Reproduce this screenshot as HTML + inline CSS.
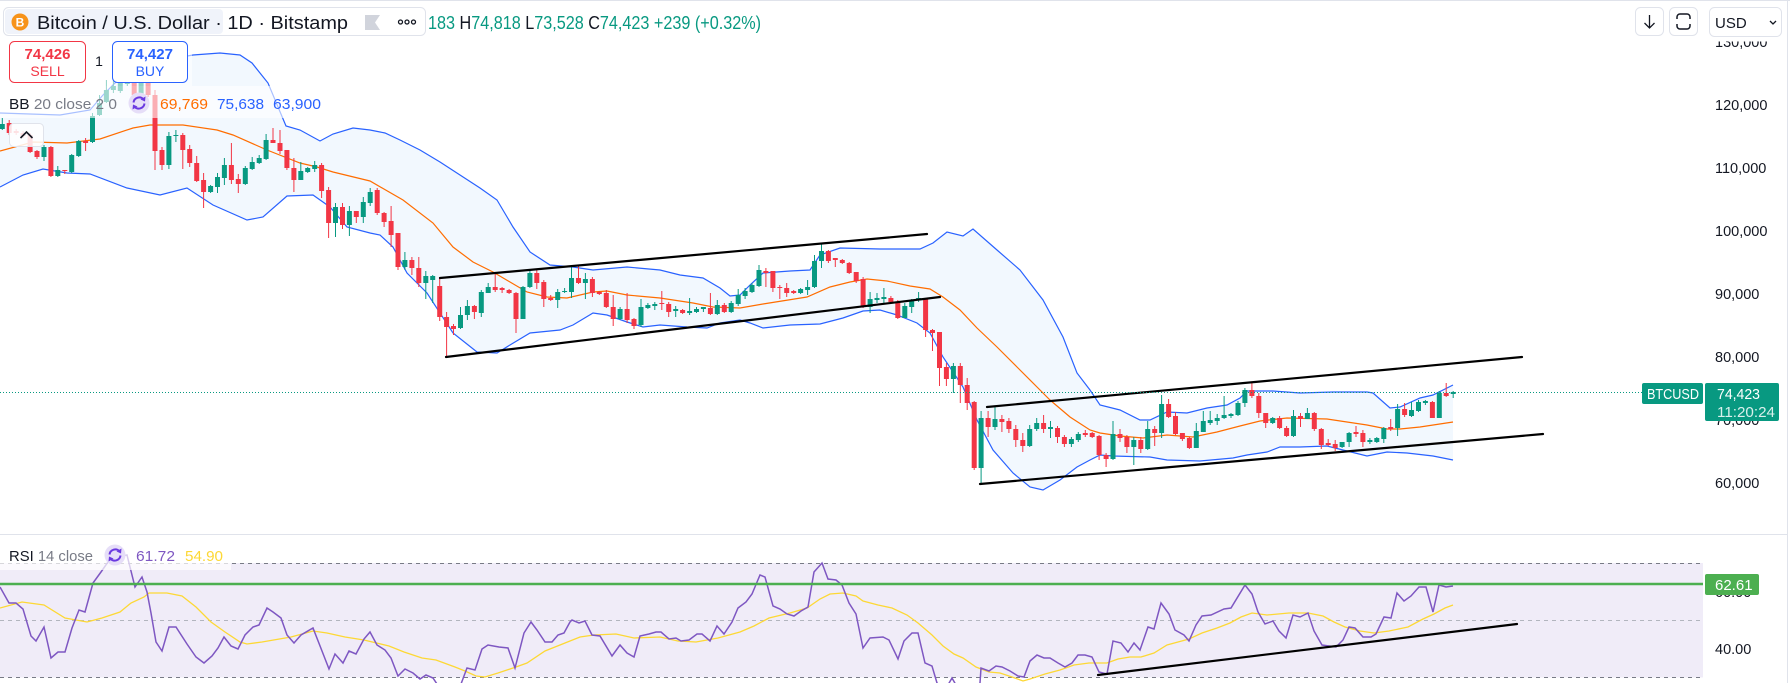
<!DOCTYPE html>
<html><head><meta charset="utf-8"><style>
html,body{margin:0;padding:0;background:#fff;width:1790px;height:683px;overflow:hidden}
svg{display:block}
text{font-family:"Liberation Sans",Arial,sans-serif}
</style></head><body>
<svg width="1790" height="683" viewBox="0 0 1790 683" xmlns="http://www.w3.org/2000/svg">
<rect width="1790" height="683" fill="#fff"/>
<line x1="0" y1="0.5" x2="1790" y2="0.5" stroke="#e0e3eb"/>
<line x1="1787.5" y1="0" x2="1787.5" y2="683" stroke="#e0e3eb"/>
<line x1="0" y1="534.5" x2="1788" y2="534.5" stroke="#e0e3eb"/>

<!-- BB fill -->
<polygon fill="#f2f8fe" points="0,113 30,114 60,115 90,110 103,95 115,83 127,74 153,62 193,55 220,53 240,55 252,63 268,83 286,126 300,130 320,141 333,134 353,128 370,130 385,133 400,140 420,150 440,162 460,175 480,188 497,200 513,227 530,252 550,265 573,267 593,270 627,267 660,270 680,275 703,278 720,288 730,296 740,295 750,285 763,273 790,271 810,270 820,255 840,248 880,249 920,249 933,243 947,232 963,236 973,229 997,250 1020,270 1043,300 1063,337 1077,373 1090,390 1100,405 1120,410 1140,420 1150,420 1167,412 1187,413 1207,408 1227,405 1240,398 1247,391 1273,391 1300,393 1333,392 1367,392 1373,393 1390,408 1400,407 1420,398 1433,395 1453,385 1453,460 1433,456 1407,453 1387,452 1367,456 1343,450 1327,446 1300,447 1280,447 1267,452 1247,455 1233,458 1200,461 1167,460 1150,457 1113,456 1100,455 1090,460 1077,467 1060,480 1043,490 1030,487 1013,473 993,450 977,420 963,387 943,357 930,333 917,323 897,315 880,310 863,311 843,318 820,324 790,325 763,328 750,323 740,320 720,323 707,328 687,327 660,325 643,327 627,322 607,315 593,313 573,325 560,330 530,333 510,345 497,353 477,352 453,333 427,293 407,273 393,247 380,235 370,233 347,227 330,207 313,195 287,196 263,217 247,220 213,205 187,188 160,195 127,188 90,174 67,173 43,169 23,175 0,187"/>
<!-- BB lines -->
<polyline fill="none" stroke="#2962ff" stroke-width="1.2" points="0,113 30,114 60,115 90,110 103,95 115,83 127,74 153,62 193,55 220,53 240,55 252,63 268,83 286,126 300,130 320,141 333,134 353,128 370,130 385,133 400,140 420,150 440,162 460,175 480,188 497,200 513,227 530,252 550,265 573,267 593,270 627,267 660,270 680,275 703,278 720,288 730,296 740,295 750,285 763,273 790,271 810,270 820,255 840,248 880,249 920,249 933,243 947,232 963,236 973,229 997,250 1020,270 1043,300 1063,337 1077,373 1090,390 1100,405 1120,410 1140,420 1150,420 1167,412 1187,413 1207,408 1227,405 1240,398 1247,391 1273,391 1300,393 1333,392 1367,392 1373,393 1390,408 1400,407 1420,398 1433,395 1453,385"/>
<polyline fill="none" stroke="#2962ff" stroke-width="1.2" points="0,187 23,175 43,169 67,173 90,174 127,188 160,195 187,188 213,205 247,220 263,217 287,196 313,195 330,207 347,227 370,233 380,235 393,247 407,273 427,293 453,333 477,352 497,353 510,345 530,333 560,330 573,325 593,313 607,315 627,322 643,327 660,325 687,327 707,328 720,323 740,320 750,323 763,328 790,325 820,324 843,318 863,311 880,310 897,315 917,323 930,333 943,357 963,387 977,420 993,450 1013,473 1030,487 1043,490 1060,480 1077,467 1090,460 1100,455 1113,456 1150,457 1167,460 1200,461 1233,458 1247,455 1267,452 1280,447 1300,447 1327,446 1343,450 1367,456 1387,452 1407,453 1433,456 1453,460"/>
<polyline fill="none" stroke="#ff6d00" stroke-width="1.2" points="0,151 33,142 67,143 100,139 133,128 150,125 183,125 217,130 233,135 267,150 300,163 317,167 333,172 370,181 403,200 433,223 453,247 473,262 493,272 510,282 527,292 547,297 567,298 593,292 607,291 627,295 660,298 693,303 713,307 740,308 763,304 807,297 830,287 850,282 867,279 887,281 910,286 930,289 943,297 960,310 977,328 997,347 1017,367 1037,387 1050,400 1070,417 1090,430 1100,433 1120,436 1143,438 1167,435 1193,437 1217,432 1240,426 1260,421 1287,418 1327,419 1367,425 1387,429 1400,429 1420,427 1453,422"/>

<!-- candles -->
<path fill="none" stroke="#089981" stroke-width="1" d="M2.3 118V130M44 145V161M57.8 166V177M71.7 154V173M78.7 140V157M92.5 113V143M99.5 95V116M106.4 80V103M113.4 80V93M120.3 78V93M127.3 68V86M141.1 72V97M168.9 132V169M175.9 130V142M210.6 185V193M217.5 173V193M224.4 158V185M245.3 166V185M252.2 157V170M259.2 155V164M266.1 134V160M300.8 162V180M307.7 167V173M314.7 161V172M335.5 203V237M349.4 206V236M363.3 197V223M370.2 188V206M404.9 252V270M425.8 271V299M432.7 275V303M460.5 307V329M467.4 300V320M481.3 290V317M488.2 283V293M523 286V319M529.9 271V288M557.7 289V308M564.6 288V293M571.5 265V298M585.4 273V299M620.1 307V320M641 299V327M647.9 303V309M654.8 302V310M675.7 306V317M689.6 298V315M696.5 307V313M703.4 307V312M717.3 300V315M731.2 301V313M738.2 289V306M745.1 288V299M752 283V293M759 265V287M800.6 288V294M807.6 280V295M814.5 255V288M821.5 243V268M870.1 292V313M877 293V303M883.9 288V303M904.8 303V318M911.7 299V313M918.6 292V302M953.4 363V393M981.1 411V485M995 407V430M1029.7 425V447M1036.7 418V431M1050.5 421V438M1071.4 437V447M1078.3 432V442M1113 421V460M1133.8 437V465M1147.7 421V450M1161.6 395V438M1196.3 423V448M1203.3 411V432M1210.2 411V425M1217.2 414V425M1224.1 396V419M1231 413V418M1238 401V416M1244.9 388V407M1272.7 417V424M1293.5 410V437M1307.4 408V419M1342.1 442V448M1349.1 432V447M1369.9 438V444M1376.8 437V443M1383.8 427V443M1397.6 404V436M1411.5 402V417M1418.5 400V412M1425.4 400V405M1439.3 391V418M1453.2 391V398"/>
<path fill="none" stroke="#f23645" stroke-width="1" d="M9.2 120V135M16.2 129V135M23.1 131V138M30.1 133V153M37 150V159M50.9 146V177M64.8 170V174M85.6 138V151M134.2 70V97M148.1 76V97M155 90V170M162 147V170M182.8 133V169M189.7 145V167M196.7 156V182M203.6 173V208M231.4 143V184M238.3 174V193M273 128V143M280 130V154M286.9 150V170M293.9 158V192M321.6 163V198M328.6 187V238M342.5 203V229M356.3 211V223M377.2 188V215M384.1 212V227M391.1 206V247M398 233V270M411.9 257V275M418.8 257V287M439.7 277V321M446.6 312V356M453.5 324V335M474.4 305V319M495.2 274V292M502.1 287V293M509.1 289V294M516 292V333M536.8 270V289M543.8 280V307M550.7 295V301M578.5 266V284M592.4 277V297M599.3 291V295M606.3 290V308M613.2 295V326M627.1 293V323M634 318V329M661.8 291V310M668.7 302V317M682.6 309V314M710.4 293V315M724.3 303V313M765.9 268V287M772.9 271V292M779.8 285V299M786.7 283V297M793.7 290V294M828.4 250V263M835.3 258V267M842.3 259V264M849.2 262V274M856.2 272V283M863.1 277V308M890.9 296V302M897.8 300V319M925.6 298V337M932.5 329V351M939.5 332V386M946.4 363V386M960.3 363V403M967.2 378V410M974.2 401V470M988.1 411V437M1001.9 415V432M1008.9 418V433M1015.8 425V447M1022.8 433V452M1043.6 415V433M1057.5 426V443M1064.4 435V447M1085.3 430V437M1092.2 432V438M1099.1 435V460M1106.1 453V467M1120 429V442M1126.9 435V453M1140.8 437V453M1154.7 426V446M1168.6 399V418M1175.5 412V435M1182.4 433V441M1189.4 437V449M1251.9 383V398M1258.8 393V418M1265.7 413V428M1279.6 416V429M1286.6 426V437M1300.5 413V427M1314.3 412V431M1321.3 428V449M1328.2 439V446M1335.2 440V451M1356 426V437M1362.9 430V447M1390.7 419V431M1404.6 403V417M1432.4 401V418M1446.2 383V397"/>
<path fill="none" stroke="#089981" stroke-width="5" d="M2.3 124V129M44 147V157M57.8 170V176M71.7 155V172M78.7 141V156M92.5 116V142M99.5 103V115M106.4 90V102M113.4 86V90M120.3 83V91M127.3 75V84M141.1 80V95M168.9 136V165M175.9 135V136M210.6 186V192M217.5 177V187M224.4 165V178M245.3 168V184M252.2 162V169M259.2 158V163M266.1 140V159M300.8 171V180M307.7 168V172M314.7 165V169M335.5 207V223M349.4 211V225M363.3 202V217M370.2 192V203M404.9 260V267M425.8 276V283M432.7 276V280M460.5 315V328M467.4 306V315M481.3 292V313M488.2 287V293M523 287V319M529.9 273V287M557.7 292V300M564.6 291V292M571.5 278V292M585.4 279V283M620.1 309V319M641 307V325M647.9 305V308M654.8 304V306M675.7 309V311M689.6 311V313M696.5 309V312M703.4 307V309M717.3 305V314M731.2 303V312M738.2 295V304M745.1 291V296M752 285V292M759 270V286M800.6 289V293M807.6 287V290M814.5 261V287M821.5 251V261M870.1 299V307M877 298V300M883.9 297V299M904.8 306V318M911.7 301V307M918.6 298V300M953.4 366V379M981.1 418V468M995 419V427M1029.7 429V446M1036.7 423V429M1050.5 427V429M1071.4 439V444M1078.3 434V440M1113 434V459M1133.8 440V447M1147.7 429V449M1161.6 404V433M1196.3 431V448M1203.3 421V432M1210.2 420V423M1217.2 418V421M1224.1 415V418M1231 414V416M1238 403V415M1244.9 390V403M1272.7 418V423M1293.5 416V436M1307.4 413V419M1342.1 442V447M1349.1 433V442M1369.9 440V442M1376.8 438V442M1383.8 428V439M1397.6 409V428M1411.5 410V416M1418.5 402V411M1425.4 401V403M1439.3 393V418M1453.2 392V394"/>
<path fill="none" stroke="#f23645" stroke-width="5" d="M9.2 123V133M16.2 131V133M23.1 133V136M30.1 135V152M37 151V157M50.9 147V176M64.8 170V171M85.6 141V143M134.2 75V95M148.1 80V95M155 95V151M162 150V165M182.8 135V150M189.7 149V163M196.7 163V181M203.6 180V192M231.4 165V180M238.3 179V184M273 140V143M280 143V151M286.9 150V168M293.9 168V180M321.6 165V191M328.6 190V223M342.5 207V225M356.3 211V217M377.2 190V213M384.1 213V222M391.1 221V235M398 233V267M411.9 260V268M418.8 268V283M439.7 286V317M446.6 317V327M453.5 326V329M474.4 306V312M495.2 287V290M502.1 288V290M509.1 290V293M516 293V319M536.8 273V283M543.8 282V299M550.7 298V300M578.5 278V283M592.4 279V293M599.3 292V294M606.3 293V307M613.2 307V319M627.1 309V320M634 319V326M661.8 303V304M668.7 304V312M682.6 310V313M710.4 308V314M724.3 305V312M765.9 271V273M772.9 271V288M779.8 287V288M786.7 288V293M793.7 291V293M828.4 251V261M835.3 258V260M842.3 260V263M849.2 263V273M856.2 272V281M863.1 279V307M890.9 298V302M897.8 302V318M925.6 299V330M932.5 330V333M939.5 332V368M946.4 367V379M960.3 366V385M967.2 385V403M974.2 402V468M988.1 418V427M1001.9 419V422M1008.9 421V429M1015.8 429V440M1022.8 440V446M1043.6 423V429M1057.5 428V437M1064.4 437V444M1085.3 433V435M1092.2 433V437M1099.1 436V455M1106.1 455V459M1120 434V438M1126.9 437V447M1140.8 440V449M1154.7 429V433M1168.6 404V417M1175.5 416V434M1182.4 433V439M1189.4 438V448M1251.9 390V396M1258.8 396V413M1265.7 413V423M1279.6 418V428M1286.6 428V436M1300.5 416V419M1314.3 413V429M1321.3 429V445M1328.2 443V445M1335.2 444V448M1356 432V434M1362.9 433V442M1390.7 427V429M1404.6 409V415M1432.4 402V418M1446.2 393V396"/>

<!-- trend lines -->
<g stroke="#000" stroke-width="2.2" stroke-linecap="round">
<line x1="440" y1="278" x2="927" y2="234"/>
<line x1="446" y1="357" x2="940" y2="297"/>
<line x1="987" y1="407" x2="1522" y2="357"/>
<line x1="980" y1="484" x2="1543" y2="434"/>
</g>
<!-- last price line -->
<line x1="0" y1="392.5" x2="1642" y2="392.5" stroke="#089981" stroke-width="1" stroke-dasharray="1 2"/>

<!-- legend fades -->
<rect x="0" y="86" width="330" height="32" fill="#fff" fill-opacity="0.6"/>
<rect x="0" y="38" width="192" height="48" fill="#fff" fill-opacity="0.55"/>

<!-- header -->
<rect x="3.5" y="7.5" width="422" height="28" rx="5" fill="#fff" stroke="#e0e3eb"/>
<rect x="5" y="9" width="218" height="25" rx="4" fill="#f0f3fa"/>
<circle cx="20" cy="22" r="8.5" fill="#f7931a"/>
<text x="20" y="26.5" font-size="12" font-weight="bold" fill="#fff" text-anchor="middle">B</text>
<text x="37" y="29" font-size="18" fill="#131722" textLength="311" lengthAdjust="spacingAndGlyphs">Bitcoin / U.S. Dollar · 1D · Bitstamp</text>
<polygon points="365,15 380,15 375,22.5 380,30 365,30" fill="#d1d4dc"/>
<g fill="none" stroke="#131722" stroke-width="1.3"><circle cx="400.5" cy="22" r="2"/><circle cx="407" cy="22" r="2"/><circle cx="413.5" cy="22" r="2"/></g>
<text x="428" y="29" font-size="18" fill="#089981" textLength="333" lengthAdjust="spacingAndGlyphs">183 <tspan fill="#131722">H</tspan>74,818 <tspan fill="#131722">L</tspan>73,528 <tspan fill="#131722">C</tspan>74,423 +239 (+0.32%)</text>

<!-- sell/buy -->
<rect x="9.5" y="41.5" width="76" height="41" rx="5" fill="#fff" stroke="#f23645"/>
<text x="47.5" y="59" font-size="15" font-weight="bold" fill="#f23645" text-anchor="middle">74,426</text>
<text x="47.5" y="76" font-size="14" fill="#f23645" text-anchor="middle">SELL</text>
<text x="99" y="66" font-size="14" fill="#131722" text-anchor="middle">1</text>
<rect x="112.5" y="41.5" width="75" height="41" rx="5" fill="#fff" stroke="#2962ff"/>
<text x="150" y="59" font-size="15" font-weight="bold" fill="#2962ff" text-anchor="middle">74,427</text>
<text x="150" y="76" font-size="14" fill="#2962ff" text-anchor="middle">BUY</text>

<!-- BB legend -->
<text x="9" y="109" font-size="15" fill="#787b86" textLength="108" lengthAdjust="spacingAndGlyphs"><tspan fill="#131722">BB</tspan> 20 close 2 0</text>
<g transform="translate(139,103)"><circle r="10.5" fill="#e6def8"/><path d="M-5.5 -0.5A5.8 5.8 0 0 1 4.6 -3.6M5.5 0.5A5.8 5.8 0 0 1 -4.6 3.6" stroke="#6a38e0" stroke-width="2" fill="none"/><path d="M6.5 -6.5L6 -1.5L1.5 -3.5Z M-6.5 6.5L-6 1.5L-1.5 3.5Z" fill="#6a38e0"/></g>
<text x="160" y="109" font-size="15" fill="#ff6d00" textLength="48" lengthAdjust="spacingAndGlyphs">69,769</text>
<text x="217" y="109" font-size="15" fill="#2962ff" textLength="47" lengthAdjust="spacingAndGlyphs">75,638</text>
<text x="273" y="109" font-size="15" fill="#2962ff" textLength="48" lengthAdjust="spacingAndGlyphs">63,900</text>
<rect x="9.5" y="123.5" width="34" height="23" rx="4" fill="#fff" fill-opacity="0.85" stroke="#e0e3eb"/>
<path d="M20.5 138L26.5 132L32.5 138" fill="none" stroke="#131722" stroke-width="1.6"/>

<!-- price axis -->
<g font-size="14.5" fill="#131722">
<text x="1715" y="47">130,000</text>
<text x="1715" y="110">120,000</text>
<text x="1715" y="173">110,000</text>
<text x="1715" y="236">100,000</text>
<text x="1715" y="299">90,000</text>
<text x="1715" y="362">80,000</text>
<text x="1715" y="425">70,000</text>
<text x="1715" y="488">60,000</text>
</g>
<rect x="1642" y="383" width="61" height="21" rx="2" fill="#089981"/>
<text x="1647" y="399" font-size="15" fill="#fff" textLength="52" lengthAdjust="spacingAndGlyphs">BTCUSD</text>
<rect x="1705" y="383" width="74" height="38" rx="2" fill="#089981"/>
<text x="1717" y="399" font-size="15" fill="#fff" textLength="43" lengthAdjust="spacingAndGlyphs">74,423</text>
<text x="1717" y="417" font-size="15" fill="#fff" fill-opacity="0.85" textLength="58" lengthAdjust="spacingAndGlyphs">11:20:24</text>

<!-- top right buttons -->
<rect x="1630" y="1" width="1157" height="40.5" fill="#fff" transform="scale(1,1)" clip-path="none" style="width:157px"/>
<rect x="1635.5" y="7.5" width="28" height="28" rx="5" fill="#fff" stroke="#e0e3eb"/>
<path d="M1649.5 15V28M1644.5 23L1649.5 28L1654.5 23" fill="none" stroke="#131722" stroke-width="1.3"/>
<rect x="1669.5" y="7.5" width="28" height="28" rx="5" fill="#fff" stroke="#e0e3eb"/>
<path d="M1677 19v-2a3 3 0 0 1 3-3h7a3 3 0 0 1 3 3v2M1677 24v2a3 3 0 0 0 3 3h7a3 3 0 0 0 3-3v-2" fill="none" stroke="#131722" stroke-width="1.5"/>
<rect x="1709.5" y="7.5" width="72" height="29" rx="5" fill="#fff" stroke="#e0e3eb"/>
<text x="1715" y="28" font-size="15" fill="#131722">USD</text>
<path d="M1770 21l3 3l3-3" fill="none" stroke="#131722" stroke-width="1.3"/>

<!-- RSI pane -->
<rect x="0" y="563" width="1703" height="114.5" fill="#f0ecf8"/>
<line x1="0" y1="563.5" x2="1703" y2="563.5" stroke="#787b86" stroke-dasharray="4 4"/>
<line x1="0" y1="620.5" x2="1703" y2="620.5" stroke="#b2b5be" stroke-dasharray="4 4"/>
<line x1="0" y1="677.5" x2="1703" y2="677.5" stroke="#787b86" stroke-dasharray="4 4"/>
<polyline fill="none" stroke="#fdd835" stroke-width="1.3" points="0,608 22,602 44,605 65,618 87,622 102,618 120,612 131,603 144,597 149,593 167,593 182,596 196,607 211,622 225,632 240,642 247,644 262,642 291,637 313,631 327,633 345,637 364,640 389,646 404,652 422,658 436,660 455,667 465,671 476,676 485,677 498,673 516,667 527,663 545,651 565,643 580,637 594,635 616,634 634,638 660,637 678,641 696,642 718,638 740,632 754,626 769,618 790,613 807,608 820,599 830,594 843,593 856,596 863,601 878,605 892,608 907,615 918,623 932,635 943,646 954,654 963,658 976,667 989,672 1000,673 1012,677 1023,681 1030,679 1045,674 1060,670 1074,665 1089,663 1107,663 1118,659 1130,657 1141,657 1154,653 1167,645 1178,642 1189,639 1202,633 1217,628 1230,623 1241,617 1252,613 1267,615 1289,613 1308,613 1323,616 1334,622 1345,627 1360,631 1374,633 1389,631 1408,627 1423,619 1434,614 1445,608 1453,605"/>
<polyline fill="none" stroke="#7e57c2" stroke-width="1.5" points="0,587 9,603 16,603 23,609 31,636 36,641 44,627 51,658 58,652 65,652 72,628 79,610 85,612 93,583 101,572 108,562 116,557 127,555 135,587 142,577 147,592 151,613 156,642 162,651 169,627 176,627 187,644 196,657 204,663 212,656 218,648 224,637 231,646 238,649 245,635 253,627 259,625 267,608 273,612 281,618 287,635 294,643 301,635 313,628 322,651 329,669 335,654 343,663 349,651 356,654 364,639 370,632 377,645 385,650 391,658 398,676 405,669 413,673 420,679 426,675 433,678 437,684 445,690 455,688 461,684 467,668 475,670 482,649 488,645 499,647 508,648 515,668 524,633 531,622 537,630 545,642 552,642 558,635 564,633 570,622 572,620 579,623 585,621 592,635 600,636 612,656 620,645 627,653 634,657 640,636 649,634 656,632 661,632 669,639 676,638 681,641 689,640 697,634 702,634 710,641 717,626 724,634 732,622 738,608 746,602 752,594 760,575 765,577 773,606 780,609 787,614 794,616 801,611 808,607 814,572 822,563 828,579 836,580 842,585 849,603 856,614 863,648 870,638 883,637 889,640 898,659 904,641 912,633 918,633 925,663 932,666 937,683 945,690 952,678 956,685 965,692 975,688 980,683 981,668 989,671 996,666 1002,667 1010,671 1018,676 1024,677 1030,661 1037,655 1044,658 1050,658 1058,663 1065,667 1072,663 1078,655 1085,655 1092,657 1099,672 1107,674 1113,641 1121,643 1128,652 1134,643 1140,650 1148,627 1154,629 1161,603 1169,614 1175,630 1184,635 1189,641 1196,625 1202,616 1211,615 1224,609 1231,608 1245,585 1252,594 1258,612 1265,624 1273,621 1279,631 1286,638 1293,615 1300,617 1308,613 1314,631 1322,645 1336,647 1343,640 1349,627 1355,628 1363,637 1371,637 1376,634 1384,617 1391,618 1397,593 1404,601 1411,596 1419,587 1426,587 1433,612 1439,585 1446,587 1453,586"/>
<line x1="1098" y1="675" x2="1517" y2="624" stroke="#000" stroke-width="2.2" stroke-linecap="round"/>
<line x1="0" y1="584" x2="1703" y2="584" stroke="#4caf50" stroke-width="2.5"/>

<!-- RSI legend -->
<rect x="0" y="545" width="231" height="25" fill="#fff" fill-opacity="0.7"/>
<text x="9" y="561" font-size="15" fill="#787b86" textLength="84" lengthAdjust="spacingAndGlyphs"><tspan fill="#131722">RSI</tspan> 14 close</text>
<g transform="translate(115,555)"><circle r="10.5" fill="#e6def8"/><path d="M-5.5 -0.5A5.8 5.8 0 0 1 4.6 -3.6M5.5 0.5A5.8 5.8 0 0 1 -4.6 3.6" stroke="#6a38e0" stroke-width="2" fill="none"/><path d="M6.5 -6.5L6 -1.5L1.5 -3.5Z M-6.5 6.5L-6 1.5L-1.5 3.5Z" fill="#6a38e0"/></g>
<text x="136" y="561" font-size="15" fill="#7e57c2" textLength="39" lengthAdjust="spacingAndGlyphs">61.72</text>
<text x="185" y="561" font-size="15" fill="#fdd835" textLength="38" lengthAdjust="spacingAndGlyphs">54.90</text>

<!-- RSI axis -->
<text x="1715" y="597" font-size="14.5" fill="#131722">60.00</text>
<text x="1715" y="654" font-size="14.5" fill="#131722">40.00</text>
<rect x="1705" y="574" width="54" height="21" rx="2" fill="#4caf50"/>
<text x="1715" y="590" font-size="15" fill="#fff">62.61</text>
</svg>
</body></html>
